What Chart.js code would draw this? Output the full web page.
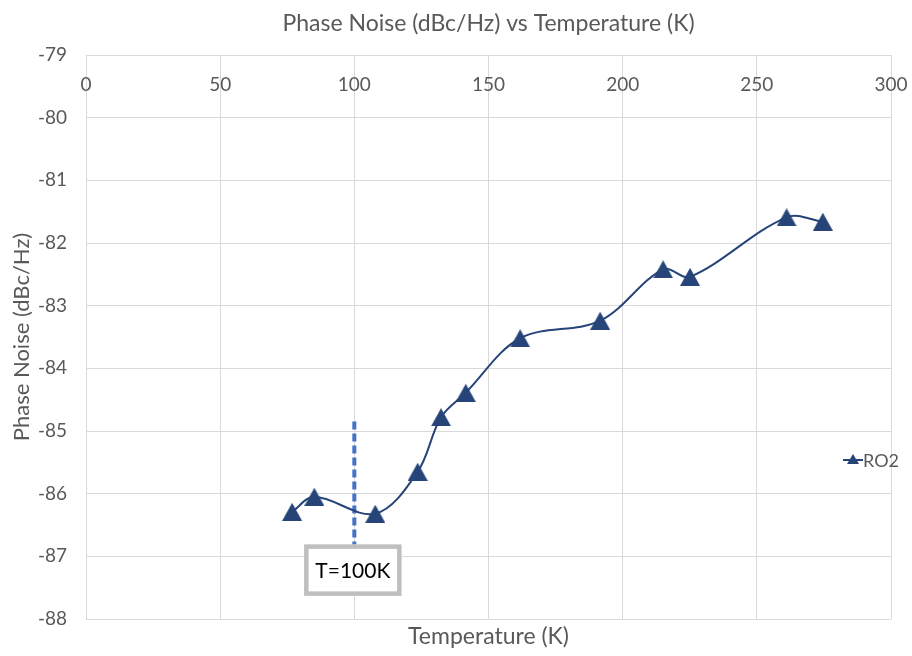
<!DOCTYPE html>
<html>
<head>
<meta charset="utf-8">
<title>Phase Noise vs Temperature</title>
<script src="https://cdn.jsdelivr.net/npm/chart.js@4"></script>
<style>
  html, body { margin: 0; padding: 0; background: #fff; }
  #wrap { width: 912px; height: 656px; }
</style>
</head>
<body>
<div id="wrap"><canvas id="phaseChart"></canvas></div>
<script>
// Measured RO2 phase noise at each temperature
const temperatures = [76.8, 85.1, 107.8, 123.6, 132.3, 141.5, 161.8, 191.6, 215.1, 225.1, 261.1, 274.6];
const phaseNoise = [-86.29, -86.05, -86.32, -85.65, -84.78, -84.39, -83.52, -83.24, -82.42, -82.54, -81.59, -81.66];

// T=100K marker line and its label
const markerTemp = 100;
const markerRange = [-84.85, -86.85];
const markerLabel = 'T=100K';
const markerLabelY = -87.22;

const xTicks = [0, 50, 100, 150, 200, 250, 300];
const yTicks = [-88, -87, -86, -85, -84, -83, -82, -81, -80, -79];

const seriesColor = '#264478';
const textColor = '#595959';
const gridColor = '#d9d9d9';
const fontFamily = 'Lato, "Open Sans", sans-serif';

// Triangle marker, centred on its bounding box
function makeTriangle(w, h, color) {
    const c = document.createElement('canvas');
    c.width = w;
    c.height = h;
    const g = c.getContext('2d');
    g.fillStyle = color;
    g.beginPath();
    g.moveTo(w / 2, 0);
    g.lineTo(w, h);
    g.lineTo(0, h);
    g.closePath();
    g.fill();
    return c;
}
const triangle = makeTriangle(20, 18, seriesColor);

// Label box and legend drawn on top of the plot
const overlayPlugin = {
    id: 'overlay',
    afterDatasetsDraw(chart) {
        const ctx = chart.ctx;
        const xs = chart.scales.x;
        const ys = chart.scales.y;

        // label box under the dashed line
        const cx = xs.getPixelForValue(markerTemp) - 1.5;
        const cy = ys.getPixelForValue(markerLabelY);
        const bw = 97, bh = 51;
        ctx.save();
        ctx.fillStyle = '#ffffff';
        ctx.fillRect(cx - bw / 2, cy - bh / 2, bw, bh);
        ctx.strokeStyle = '#bfbfbf';
        ctx.lineWidth = 4.5;
        ctx.strokeRect(cx - bw / 2 + 2, cy - bh / 2 + 2, bw - 4, bh - 4);
        ctx.fillStyle = '#000000';
        ctx.font = '21px ' + fontFamily;
        ctx.textAlign = 'center';
        ctx.textBaseline = 'middle';
        ctx.fillText(markerLabel, cx, cy + 1);

        // legend entry
        const lx = 843, ly = 460;
        ctx.strokeStyle = seriesColor;
        ctx.lineWidth = 2;
        ctx.beginPath();
        ctx.moveTo(lx, ly);
        ctx.lineTo(lx + 20, ly);
        ctx.stroke();
        ctx.fillStyle = seriesColor;
        ctx.beginPath();
        ctx.moveTo(lx + 10, ly - 6);
        ctx.lineTo(lx + 16, ly + 4);
        ctx.lineTo(lx + 4, ly + 4);
        ctx.closePath();
        ctx.fill();
        ctx.fillStyle = textColor;
        ctx.font = '18px ' + fontFamily;
        ctx.textAlign = 'left';
        ctx.fillText(chart.data.datasets[0].label, lx + 20, ly + 1);
        ctx.restore();
    }
};

document.addEventListener('DOMContentLoaded', function() {
    const ctx = document.getElementById('phaseChart');
    new Chart(ctx.getContext('2d'), {
        type: 'line',
        data: {
            datasets: [{
                label: 'RO2',
                data: temperatures.map((t, i) => ({ x: t, y: phaseNoise[i] })),
                borderColor: seriesColor,
                backgroundColor: seriesColor,
                borderWidth: 2,
                pointStyle: triangle,
                pointRadius: 9,
                tension: 0.35,
                xAxisID: 'x',
                yAxisID: 'y'
            }, {
                label: 'marker',
                data: markerRange.map(v => ({ x: markerTemp, y: v })),
                borderColor: '#4472c4',
                borderWidth: 4,
                borderDash: [8, 4],
                pointRadius: 0,
                tension: 0,
                xAxisID: 'x',
                yAxisID: 'y'
            }]
        },
        options: {
            responsive: true,
            maintainAspectRatio: false,
            animation: false,
            layout: { padding: { left: 0, right: 21, top: 0, bottom: 0 } },
            plugins: {
                legend: { display: false },
                tooltip: { enabled: false },
                title: {
                    display: true,
                    fullSize: false,
                    text: 'Phase Noise (dBc/Hz) vs Temperature (K)',
                    color: textColor,
                    font: { family: fontFamily, size: 23, weight: 'normal' },
                    padding: { top: 10, bottom: 17.4 }
                }
            },
            scales: {
                x: {
                    type: 'linear',
                    position: { y: -79 },
                    min: 0,
                    max: 300,
                    afterBuildTicks: scale => { scale.ticks = xTicks.map(v => ({ value: v })); },
                    // labels sit inside the plot, so they need no side padding
                    afterFit: scale => { scale.paddingLeft = 0; scale.paddingRight = 0; },
                    grid: { color: gridColor, drawTicks: false },
                    border: { display: false },
                    ticks: {
                        color: textColor,
                        padding: 18.6,
                        maxRotation: 0,
                        font: { family: fontFamily, size: 19 }
                    }
                },
                x2: {
                    type: 'linear',
                    position: 'bottom',
                    afterFit: scale => { scale.height = 37; },
                    grid: { display: false, drawTicks: false },
                    border: { display: false },
                    ticks: { display: false },
                    title: {
                        display: true,
                        text: 'Temperature (K)',
                        color: textColor,
                        font: { family: fontFamily, size: 23 },
                        padding: { top: 0, bottom: 5.2 }
                    }
                },
                y: {
                    type: 'linear',
                    position: 'left',
                    min: -88,
                    max: -79,
                    afterBuildTicks: scale => { scale.ticks = yTicks.map(v => ({ value: v })); },
                    afterFit: scale => { scale.width = 86; },
                    grid: { color: gridColor, drawTicks: false },
                    border: { display: false },
                    ticks: {
                        color: textColor,
                        padding: 19,
                        font: { family: fontFamily, size: 19 }
                    },
                    title: {
                        display: true,
                        text: 'Phase Noise (dBc/Hz)',
                        color: textColor,
                        font: { family: fontFamily, size: 22 },
                        padding: { top: 9, bottom: 0 }
                    }
                }
            }
        },
        plugins: [overlayPlugin]
    });
});
</script>
</body>
</html>
